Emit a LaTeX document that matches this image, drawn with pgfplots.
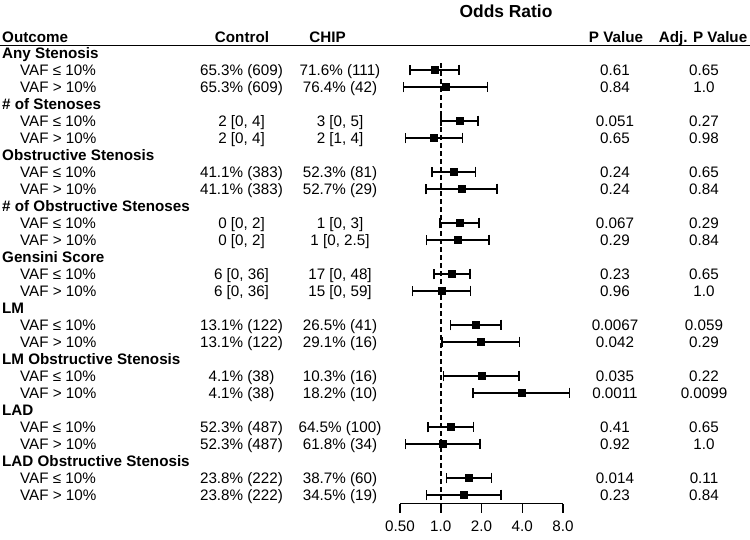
\documentclass[border=0pt]{standalone}
\usepackage{fontspec}
\setmainfont{Liberation Sans}
\usepackage{pgfplots}
\pgfplotsset{compat=1.18}
\usepackage{pgfplotstable}

\pgfplotstableread{
row est lo hi
1 0.903 0.593 1.359
2 1.083 0.529 2.215
4 1.375 1.000 1.890
5 0.888 0.551 1.447
7 1.248 0.863 1.805
8 1.430 0.779 2.597
10 1.375 0.989 1.922
11 1.329 0.788 2.266
13 1.213 0.893 1.648
14 1.011 0.620 1.658
16 1.816 1.179 2.781
17 1.977 1.023 3.820
19 2.000 1.052 3.780
20 3.930 1.735 8.960
22 1.179 0.806 1.745
23 1.029 0.551 1.944
25 1.621 1.101 2.372
26 1.480 0.783 2.797
}\ordata

\newcommand\fs{\fontsize{15.2bp}{17bp}\selectfont}
\newcommand\datarow[6]{%
 \pgfmathsetmacro\yy{58.4+17*#1}%
 \node[anchor=base west] at (20,\yy) {#2};
 \node at (241.5,\yy) {#3};
 \node at (340,\yy) {#4};
 \node at (615,\yy) {#5};
 \node at (704,\yy) {#6};
}
\newcommand\grouprow[2]{%
 \pgfmathsetmacro\yy{58.4+17*#1}%
 \node[anchor=base west,font=\fs\bfseries] at (2,\yy) {#2};
}

\begin{document}
\begin{tikzpicture}
\path[use as bounding box] (0,0) rectangle (750bp,-540bp);
\begin{axis}[
 at={(400bp,-63.2bp)}, anchor=north west,
 scale only axis, width=163bp, height=440.3bp,
 xmode=log, log basis x=2,
 xmin=0.5, xmax=8, ymin=-26.5, ymax=-0.6,
 axis x line*=bottom, axis y line=none,
 x axis line style={-, line width=1.5bp},
 xtick={0.5,1,2,4,8}, xticklabels={0.50,1.0,2.0,4.0,8.0},
 /pgf/number format/assume math mode=true,
 tick align=outside, major tick length=9bp,
 every tick/.style={black, line width=1.5bp},
 xticklabel style={font=\fs, yshift=-4.5bp},
 ytick=\empty,
 clip=false,
]
\addplot[black, line width=1.5bp, dash pattern=on 5bp off 3bp] coordinates {(1,-0.6) (1,-26.5)};
\addplot[black, only marks, mark=square*, mark size=3.5bp,
  error bars/.cd, x dir=both, x explicit,
  error mark=|, error mark options={black, mark size=5.3bp, line width=1.5bp},
  error bar style={black, line width=1.5bp}]
  table[x=est, y expr=-\thisrow{row}, x error plus expr=\thisrow{hi}-\thisrow{est}, x error minus expr=\thisrow{est}-\thisrow{lo}] {\ordata};
\end{axis}
\begin{scope}[x=1bp,y=-1bp, every node/.style={font=\fs, inner sep=0pt, anchor=base}]
\node[font=\fontsize{17.4bp}{20bp}\selectfont\bfseries] at (506,17.2) {Odds Ratio};
\node[anchor=base west,font=\fs\bfseries] at (2,42.1) {Outcome};
\node[font=\fs\bfseries] at (242,42.1) {Control};
\node[font=\fs\bfseries] at (327.5,42.1) {CHIP};
\node[font=\fs\bfseries] at (616,42.1) {P Value};
\node[font=\fs\bfseries] at (703,42.1) {Adj. P Value};
\draw[line width=1.5bp] (0,45.5) -- (750,45.5);
\grouprow{0}{Any Stenosis}
\datarow{1}{VAF ≤ 10\%}{65.3\% (609)}{71.6\% (111)}{0.61}{0.65}
\datarow{2}{VAF > 10\%}{65.3\% (609)}{76.4\% (42)}{0.84}{1.0}
\grouprow{3}{\# of Stenoses}
\datarow{4}{VAF ≤ 10\%}{2 [0, 4]}{3 [0, 5]}{0.051}{0.27}
\datarow{5}{VAF > 10\%}{2 [0, 4]}{2 [1, 4]}{0.65}{0.98}
\grouprow{6}{Obstructive Stenosis}
\datarow{7}{VAF ≤ 10\%}{41.1\% (383)}{52.3\% (81)}{0.24}{0.65}
\datarow{8}{VAF > 10\%}{41.1\% (383)}{52.7\% (29)}{0.24}{0.84}
\grouprow{9}{\# of Obstructive Stenoses}
\datarow{10}{VAF ≤ 10\%}{0 [0, 2]}{1 [0, 3]}{0.067}{0.29}
\datarow{11}{VAF > 10\%}{0 [0, 2]}{1 [0, 2.5]}{0.29}{0.84}
\grouprow{12}{Gensini Score}
\datarow{13}{VAF ≤ 10\%}{6 [0, 36]}{17 [0, 48]}{0.23}{0.65}
\datarow{14}{VAF > 10\%}{6 [0, 36]}{15 [0, 59]}{0.96}{1.0}
\grouprow{15}{LM}
\datarow{16}{VAF ≤ 10\%}{13.1\% (122)}{26.5\% (41)}{0.0067}{0.059}
\datarow{17}{VAF > 10\%}{13.1\% (122)}{29.1\% (16)}{0.042}{0.29}
\grouprow{18}{LM Obstructive Stenosis}
\datarow{19}{VAF ≤ 10\%}{4.1\% (38)}{10.3\% (16)}{0.035}{0.22}
\datarow{20}{VAF > 10\%}{4.1\% (38)}{18.2\% (10)}{0.0011}{0.0099}
\grouprow{21}{LAD}
\datarow{22}{VAF ≤ 10\%}{52.3\% (487)}{64.5\% (100)}{0.41}{0.65}
\datarow{23}{VAF > 10\%}{52.3\% (487)}{61.8\% (34)}{0.92}{1.0}
\grouprow{24}{LAD Obstructive Stenosis}
\datarow{25}{VAF ≤ 10\%}{23.8\% (222)}{38.7\% (60)}{0.014}{0.11}
\datarow{26}{VAF > 10\%}{23.8\% (222)}{34.5\% (19)}{0.23}{0.84}
\end{scope}
\end{tikzpicture}
\end{document}
